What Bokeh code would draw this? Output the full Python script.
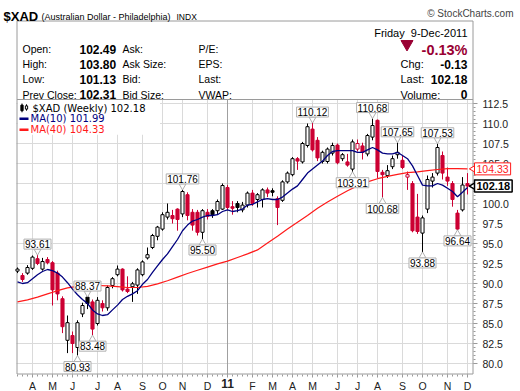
import math
from bokeh.plotting import figure
from bokeh.models import Range1d, Label, ColumnDataSource
from bokeh.core.properties import value
from bokeh.embed import file_html
from bokeh.resources import INLINE

# ---------------- data (weekly bars, week 0 = 15-Mar-2010 ... week 90 = 5-Dec-2011)
weeks = list(range(91))
opens = [91.55, 91.0, 91.3, 91.9, 93.1, 91.8, 93.0, 92.6, 91.3, 88.1,
         82.9, 83.5, 82.0, 86.2, 88.3, 87.7, 85.0, 87.5, 86.96, 89.75,
         91.1, 91.8, 89.3, 89.6, 89.8, 91.1, 93.2, 94.5, 95.9, 96.8,
         98.3, 98.5, 99.3, 98.7, 101.1, 98.9, 98.9, 96.4, 98.9, 99.1,
         99.1, 99.3, 102.0, 99.6, 100.0, 99.2, 99.8, 101.3, 100.5, 100.5,
         101.7, 101.6, 100.6, 100.4, 102.7, 103.6, 105.6, 105.2, 107.25, 109.3,
         107.9, 105.25, 105.25, 106.3, 107.3, 105.6, 105.2, 104.3, 106.8, 107.2,
         106.2, 108.3, 110.4, 103.9, 103.5, 104.6, 106.1, 105.4, 103.3, 102.5,
         98.3, 96.3, 99.3, 102.8, 103.8, 106.0, 103.3, 102.5, 98.8, 99.2,
         102.49]
highs = [92.0, 91.3, 92.3, 93.5, 93.61, 93.2, 93.3, 92.8, 91.6, 88.4,
         86.0, 84.0, 85.4, 87.6, 88.37, 88.0, 88.3, 87.9, 89.75, 90.8,
         92.25, 91.9, 90.9, 90.2, 91.9, 92.9, 94.5, 96.2, 97.2, 98.9,
         100.0, 99.2, 99.4, 101.76, 101.4, 99.3, 99.2, 99.3, 99.3, 99.3,
         100.5, 102.5, 102.3, 100.3, 100.3, 100.2, 101.5, 101.7, 101.3, 101.9,
         102.0, 101.9, 100.9, 102.9, 104.0, 105.8, 105.8, 107.7, 110.0, 110.12,
         108.3, 106.6, 107.0, 107.6, 107.5, 106.3, 106.2, 108.0, 108.0, 107.6,
         108.7, 110.68, 110.5, 104.2, 104.8, 106.0, 107.65, 106.0, 104.0, 102.8,
         101.2, 98.5, 103.5, 103.8, 107.53, 106.5, 104.5, 102.8, 99.2, 103.3,
         103.80]
lows = [91.3, 90.2, 91.1, 91.7, 92.3, 91.6, 92.4, 87.25, 87.9, 83.8,
        81.3, 81.3, 80.93, 85.8, 86.8, 83.48, 84.75, 86.5, 86.6, 89.4,
        90.9, 89.0, 88.8, 87.7, 88.7, 90.9, 93.0, 94.3, 95.4, 96.6,
        98.0, 97.5, 96.6, 98.3, 97.9, 96.6, 96.0, 95.5, 98.0, 98.2,
        98.7, 99.2, 99.2, 98.6, 98.9, 98.9, 99.5, 99.7, 99.5, 99.5,
        100.8, 100.9, 97.3, 100.2, 102.5, 103.4, 104.2, 105.0, 107.0, 106.5,
        105.3, 105.0, 105.0, 106.0, 104.9, 105.3, 104.6, 103.91, 106.5, 105.5,
        105.9, 107.9, 103.2, 100.68, 103.2, 104.3, 105.6, 104.3, 101.7, 96.4,
        96.2, 93.88, 98.8, 102.0, 103.5, 103.0, 102.2, 99.6, 96.64, 99.0,
        101.13]
closes = [91.8, 90.5, 92.0, 93.3, 92.5, 92.75, 92.6, 89.2, 88.7, 84.6,
          85.1, 82.5, 85.1, 87.25, 87.5, 84.3, 87.9, 86.96, 89.5, 90.6,
          91.8, 89.2, 89.0, 89.96, 91.7, 92.7, 93.6, 96.0, 97.05, 98.6,
          98.9, 98.1, 98.0, 101.5, 98.5, 97.3, 96.4, 99.1, 98.4, 98.6,
          100.25, 102.25, 99.5, 99.4, 99.5, 99.8, 101.3, 100.0, 101.1, 101.7,
          101.3, 101.4, 99.5, 102.7, 103.8, 105.6, 105.3, 107.5, 109.6, 106.7,
          105.7, 106.4, 106.8, 107.25, 105.1, 106.1, 104.8, 107.7, 107.5, 106.4,
          108.5, 109.75, 104.0, 103.6, 104.1, 105.6, 106.4, 104.5, 103.6, 96.6,
          96.5, 98.2, 103.0, 103.3, 107.0, 103.8, 102.8, 100.5, 96.8, 102.31,
          102.18]
ma10 = [90.2, 90.0, 90.1, 90.6, 91.1, 91.5, 91.75, 91.6, 91.3, 90.8,
        90.1, 89.3, 88.6, 88.0, 87.5, 86.7, 86.2, 86.0, 86.1, 86.7,
        87.3, 88.0, 88.4, 88.7, 89.1, 89.9, 90.5, 91.4, 92.2, 93.0,
        93.7, 94.6, 95.5, 96.6, 97.3, 97.8, 98.0, 98.3, 98.5, 98.5,
        98.6, 99.0, 99.2, 99.0, 99.1, 99.3, 99.8, 99.9, 100.2, 100.5,
        100.6, 100.5, 100.5, 100.8, 101.3, 101.8, 102.2, 103.0, 103.8, 104.3,
        104.8, 105.3, 106.0, 106.5, 106.6, 106.6, 106.6, 106.6, 106.4, 106.4,
        106.7, 107.0, 106.7, 106.3, 106.2, 106.2, 106.4, 106.0, 105.6, 104.7,
        103.5, 102.3, 102.2, 102.2, 102.5, 102.3, 101.9, 101.5, 100.85, 101.4,
        101.99]
ma40_weeks = [0, 2, 4, 6, 8, 10, 12, 14, 16, 18, 20, 22, 24, 26, 28, 30, 32, 34, 36, 38,
              40, 42, 44, 46, 48, 50, 52, 54, 56, 58, 60, 62, 64, 66, 68, 70, 72, 74, 76, 78,
              80, 82, 84, 86, 88, 90]
ma40 = [87.7, 87.95, 88.3, 88.7, 89.1, 89.45, 89.65, 89.75, 89.75, 89.7,
        89.6, 89.5, 89.5, 89.65, 89.95, 90.35, 90.8, 91.25, 91.65, 92.05,
        92.45, 92.8, 93.25, 93.7, 94.2, 95.05, 95.9, 96.8, 97.65, 98.5,
        99.4, 100.2, 100.9, 101.6, 102.2, 102.7, 103.1, 103.4, 103.65, 103.85,
        103.95, 104.1, 104.25, 104.35, 104.35, 104.33]
month_weeks = [3, 7, 11, 16, 20, 25, 29, 33, 38, 42, 47, 51, 55, 59, 64, 68, 72, 77, 81, 86, 90]
month_labels = ["A", "M", "J", "J", "A", "S", "O", "N", "D", "11", "F",
                "M", "A", "M", "J", "J", "A", "S", "O", "N", "D"]
year_week = 42
price_ticks = [80.0, 82.5, 85.0, 87.5, 90.0, 92.5, 95.0, 97.5, 100.0, 102.5, 105.0, 107.5, 110.0, 112.5]
swing_weeks = [4, 14, 15, 12, 33, 37, 59, 67, 71, 73, 76, 84, 81, 88]
swing_sides = ["high", "high", "low", "low", "high", "low", "high", "low",
               "high", "low", "high", "high", "low", "low"]
symbol = "$XAD"
day_text = "Friday\u00a0\u00a09-Dec-2011"

RED = "#cc0033"
BLACK = "#000000"
NAVY = "#00007f"
MARED = "#ff1a1a"
GRID = "#dadada"
FRAME = "#9a9a9a"
FONT = "Liberation Sans"

# ---------------- layout constants (pixels)
W, H = 520, 391
FRAME_L, FRAME_R, BOX_T, CHART_T, FRAME_B = 16, 473, 20, 99, 374
PXW = 5.0      # pixels per week
PX = 8.0       # pixels per price unit
X0 = -0.2      # week at the chart's left edge
Y_CHART_TOP = 113.0
X_END = X0 + (FRAME_R - FRAME_L) / PXW


def X(px):
    return X0 + (px - FRAME_L) / PXW


def Y(py):
    return Y_CHART_TOP - (py - CHART_T) / PX


Y_BOTTOM = Y(FRAME_B)

# ---------------- candle styling derived from data
colors, fills, tops, bottoms = [], [], [], []
for i in weeks:
    c = BLACK if (i == 0 or closes[i] >= closes[i - 1]) else RED
    colors.append(c)
    fills.append("white" if closes[i] >= opens[i] else c)
    t, b = max(opens[i], closes[i]), min(opens[i], closes[i])
    if t - b < 0.12:
        t = b + 0.12
    tops.append(t)
    bottoms.append(b)
src = ColumnDataSource(dict(x=weeks, o=opens, h=highs, l=lows, c=closes,
                            top=tops, bottom=bottoms, color=colors, fill=fills))

p = figure(width=W, height=H, x_range=Range1d(X(0), X(W)), y_range=Range1d(Y(H), Y(0)),
           output_backend="svg", toolbar_location=None,
           x_axis_location=None, y_axis_location=None, min_border=0,
           background_fill_color="white", border_fill_color="white",
           outline_line_color=None)
p.grid.visible = False


def gtext(xs, ys, texts, size, bold=False, align="left", baseline="alphabetic",
          color="#000000", font=FONT):
    p.text(x=xs, y=ys, text=texts, text_font=value(font), text_font_size=value(size),
           text_font_style=value("bold" if bold else "normal"), text_align=value(align),
           text_baseline=value(baseline), text_color=color)


# ---------------- grid (chart area only)
grid_weeks = [m for m in month_weeks if m != year_week]
p.segment(x0=grid_weeks, y0=[Y_BOTTOM] * len(grid_weeks), x1=grid_weeks,
          y1=[Y_CHART_TOP] * len(grid_weeks), line_color=GRID, line_width=1)
p.segment(x0=[X0] * len(price_ticks), y0=price_ticks, x1=[X_END] * len(price_ticks),
          y1=price_ticks, line_color=GRID, line_width=1)
p.segment(x0=[year_week], y0=[Y_BOTTOM], x1=[year_week], y1=[Y_CHART_TOP],
          line_color="#a0a0a0", line_width=1)

# ---------------- price axis (right)
minor_prices = [80.0 + 0.5 * k for k in range(66)]
p.segment(x0=[X(FRAME_R)] * len(minor_prices), y0=minor_prices,
          x1=[X(FRAME_R + 2)] * len(minor_prices), y1=minor_prices, line_color=FRAME)
p.segment(x0=[X(FRAME_R)] * len(price_ticks), y0=price_ticks,
          x1=[X(FRAME_R + 4)] * len(price_ticks), y1=price_ticks, line_color=FRAME)
gtext([X(482)] * len(price_ticks), price_ticks, ["%.1f" % t for t in price_ticks],
      "10.5px", baseline="middle", color="#222222")

# ---------------- time axis (bottom)
p.segment(x0=weeks, y0=[Y_BOTTOM] * len(weeks), x1=weeks, y1=[Y(FRAME_B + 2)] * len(weeks),
          line_color=FRAME)
p.segment(x0=month_weeks, y0=[Y_BOTTOM] * len(month_weeks), x1=month_weeks,
          y1=[Y(FRAME_B + 3)] * len(month_weeks), line_color=FRAME)
norm = [(m, l) for m, l in zip(month_weeks, month_labels) if m != year_week]
gtext([m for m, _ in norm], [Y(379)] * len(norm), [l for _, l in norm], "10.5px",
      align="center", baseline="top", color="#222222")
gtext([year_week], [Y(378.5)], [month_labels[month_weeks.index(year_week)]], "12px",
      bold=True, align="center", baseline="top", color="#222222")

# ---------------- legend (white panel over the grid)
p.quad(left=[X(17)], right=[28.5], bottom=[108.6], top=[Y(99.5)], fill_color="white", line_color=None)
leg_y = [111.91, 110.59, 109.21]
p.segment(x0=[0.9, 1.8], y0=[111.4, 111.6], x1=[0.9, 1.8], y1=[112.5, 112.4], line_color="black")
p.vbar(x=[0.9, 1.8], width=0.45, top=[112.3, 112.2], bottom=[111.6, 111.8],
       fill_color=["black", "white"], line_color="black")
p.segment(x0=[0.4, 0.4], y0=leg_y[1:], x1=[2.2, 2.2], y1=leg_y[1:],
          line_color=[NAVY, MARED], line_width=2.5)
p.text(x=[3.0, 2.6, 2.6], y=leg_y,
       text=["%s (Weekly) %.2f" % (symbol, closes[-1]), "MA(10) %.2f" % ma10[-1], "MA(40) %.2f" % ma40[-1]],
       text_color=[BLACK, NAVY, MARED], text_font=value("DejaVu Sans"),
       text_font_size=value("10px"), text_baseline=value("middle"))

# ---------------- panel box + chart frame lines
bx0, bx1 = X(16.5), X(472.5)
by_top, by_mid, by_bot = Y(20.5), Y(99), Y(373.5)
p.segment(x0=[bx0, bx1, bx0, bx0, bx0], y0=[by_top, by_top, by_top, by_mid, by_bot],
          x1=[bx0, bx1, bx1, bx1, bx1], y1=[by_bot, by_bot, by_top, by_mid, by_bot],
          line_color=FRAME, line_width=1)

# ---------------- header texts
last = closes[-1]
prev = closes[-2]
chg = last - prev
pct = chg / prev * 100
gtext([X(3)], [Y(16)], [symbol], "13px", bold=True)
gtext([X(41)], [Y(16)], ["(Australian Dollar - Philadelphia)"], "9px")
gtext([X(176)], [Y(16)], ["INDX"], "8.5px")
gtext([X(513)], [Y(13)], ["\u00a9 StockCharts.com"], "10px", align="right", color="#444444")

rows = [48.5, 63.5, 78.5, 94]
gtext([X(467)], [Y(32)], [day_text], "11px", align="right")
p.scatter(x=[X(406.5)], y=[Y(43.5)], marker="inverted_triangle", size=12,
          fill_color="#990033", line_color="#990033")
gtext([X(467)], [Y(49.5)], ["%.2f%%" % pct], "14.5px", bold=True, align="right", color="#990033")

gtext([X(22)] * 4, [Y(r) for r in rows], ["Open:", "High:", "Low:", "Prev Close:"], "10.5px")
gtext([X(79)] * 4, [Y(r) for r in rows],
      ["%.2f" % v for v in [opens[-1], highs[-1], lows[-1], prev]], "12px", bold=True)
gtext([X(122)] * 4, [Y(r) for r in rows], ["Ask:", "Ask Size:", "Bid:", "Bid Size:"], "10.5px")
gtext([X(198)] * 4, [Y(r) for r in rows], ["P/E:", "EPS:", "Last:", "VWAP:"], "10.5px")
gtext([X(400)] * 3, [Y(r) for r in rows[1:]], ["Chg:", "Last:", "Volume:"], "11px")
gtext([X(467)] * 3, [Y(r) for r in rows[1:]], ["%.2f" % chg, "%.2f" % last, "0"], "12px",
      bold=True, align="right")

# ---------------- candles
p.segment(x0="x", y0="l", x1="x", y1="h", line_color="color", line_width=1, source=src)
p.vbar(x="x", width=0.62, top="top", bottom="bottom", fill_color="fill",
       line_color="color", line_width=1, source=src)

# ---------------- moving averages
p.line(ma40_weeks, ma40, line_color=MARED, line_width=1.2)
p.line(weeks, ma10, line_color=NAVY, line_width=1.3)

# ---------------- swing high / low annotations
for w, side in zip(swing_weeks, swing_sides):
    v = highs[w] if side == "high" else lows[w]
    sgn = 1 if side == "high" else -1
    p.scatter(x=[w], y=[v + sgn * 3.5 / PX],
              marker="inverted_triangle" if side == "high" else "triangle",
              size=7, fill_color="white", line_color="#b0b0b0")
    p.add_layout(Label(x=w, y=v, y_offset=sgn * 10.5, text="%.2f" % v,
                       text_font=FONT, text_font_size="10px", text_align="center",
                       text_baseline="middle", text_color="#000000",
                       background_fill_color="white", border_line_color="#b0b0b0",
                       padding=1))

# ---------------- last-value boxes on the right (with left-pointing notches)
p.scatter(x=[X(474), X(474)], y=[ma40[-1], last], marker="triangle", angle=math.pi / 2,
          size=9, fill_color="white", line_color=[MARED, BLACK], line_width=[1, 1.5])
p.add_layout(Label(x=X(474), y=ma40[-1], text="%.2f" % ma40[-1], text_font=FONT,
                   text_font_size="10.5px", text_align="left", text_baseline="middle",
                   text_color=MARED, background_fill_color="white",
                   border_line_color=MARED, padding=2))
p.add_layout(Label(x=X(474), y=last, text="%.2f" % last, text_font=FONT,
                   text_font_size="11px", text_font_style="bold", text_align="left",
                   text_baseline="middle", text_color="#000000",
                   background_fill_color="white", border_line_color="#000000",
                   border_line_width=1.5, padding=2))

open("out.html", "w").write(file_html(p, INLINE))
